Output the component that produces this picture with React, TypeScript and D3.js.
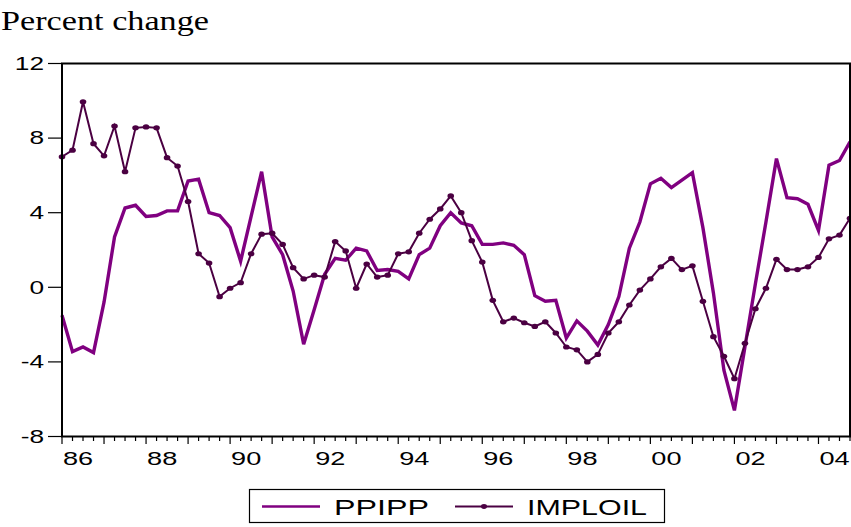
import React from 'react';
import * as d3 from 'd3';

// quarterly series, 1986Q1 .. 2004Q4
const START_YEAR = 1986;

const PPIPP = [
  -1.5, -3.45, -3.2, -3.5, -0.8, 2.7, 4.25, 4.4, 3.8, 3.85, 4.1, 4.1,
  5.7, 5.8, 4.0, 3.85, 3.2, 1.4, 3.8, 6.2, 2.7, 1.75, -0.2, -3.05,
  -1.2, 0.7, 1.55, 1.45, 2.1, 1.95, 0.9, 0.95, 0.85, 0.45, 1.75, 2.1,
  3.3, 4.0, 3.45, 3.3, 2.3, 2.3, 2.38, 2.25, 1.75, -0.45, -0.75, -0.7,
  -2.72, -1.8, -2.35, -3.1, -2.0, -0.5, 2.1, 3.5, 5.55, 5.85, 5.35, 5.75,
  6.15, 3.2, -0.3, -4.45, -6.6, -3.2, 0.2, 3.5, 6.9, 4.8, 4.75, 4.45,
  3.05, 6.55, 6.8, 7.8,
];

const IMPLOIL = [
  7.0, 7.35, 9.95, 7.7, 7.05, 8.65, 6.2, 8.55, 8.6, 8.55, 6.95, 6.5,
  4.6, 1.8, 1.3, -0.5, -0.05, 0.25, 1.8, 2.85, 2.9, 2.3, 1.05, 0.45,
  0.65, 0.55, 2.45, 1.95, -0.05, 1.25, 0.55, 0.65, 1.8, 1.9, 2.9, 3.65,
  4.2, 4.9, 4.0, 2.5, 1.35, -0.7, -1.85, -1.65, -1.9, -2.1, -1.85, -2.45,
  -3.2, -3.35, -4.0, -3.6, -2.45, -1.85, -0.95, -0.15, 0.45, 1.1, 1.55, 0.95,
  1.15, -0.75, -2.65, -3.7, -4.9, -3.0, -1.15, -0.05, 1.5, 0.95, 0.95, 1.1,
  1.6, 2.6, 2.8, 3.7,
];

const Y_TICKS = [12, 8, 4, 0, -4, -8];
const X_LABELS = ['86', '88', '90', '92', '94', '96', '98', '00', '02', '04'];
const LABEL_YEARS = [1986, 1988, 1990, 1992, 1994, 1996, 1998, 2000, 2002, 2004];

const PPIPP_COLOR = '#800080';
const IMPLOIL_COLOR = '#4b0042';
const SANS = 'Arial, "Liberation Sans", sans-serif';

const W = 851;
const H = 527;
const plot = { left: 62, right: 850, top: 63.5, bottom: 436.5 };

// EViews output here is stretched horizontally, so text is widened too
const Stretch: React.FC<{
  x: number; y: number; sx: number; anchor?: string; size: number; children: React.ReactNode;
}> = ({ x, y, sx, anchor = 'start', size, children }) => (
  <text
    transform={`translate(${x},${y}) scale(${sx},1)`}
    textAnchor={anchor}
    fontSize={size}
    fontFamily={SANS}
    fill="#000"
  >
    {children}
  </text>
);

const App = () => {
  const dates = PPIPP.map((_, i) => START_YEAR + i / 4);
  const lastDate = dates[dates.length - 1];

  const x = d3.scaleLinear().domain([START_YEAR, lastDate]).range([plot.left, plot.right]);
  const y = d3.scaleLinear().domain([-8, 12]).range([plot.bottom, plot.top]);

  const line = d3
    .line<number>()
    .x((_, i) => x(dates[i]))
    .y((d) => y(d));

  const quarterTicks = d3.range(0, (lastDate - START_YEAR) * 4 + 1).map((q) => START_YEAR + q / 4);

  return (
    <svg
      width={W}
      height={H}
      style={{ position: 'absolute', left: 0, top: 0, display: 'block', background: '#fff' }}
    >
      <text x={1} y={30} fontSize={28} fontFamily='"Times New Roman", "Liberation Serif", serif' textLength={208} lengthAdjust="spacingAndGlyphs">
        Percent change
      </text>

      {/* y axis ticks and labels */}
      {Y_TICKS.map((t) => (
        <g key={t}>
          <line x1={48} x2={plot.left} y1={y(t)} y2={y(t)} stroke="#000" strokeWidth={1.2} />
          <Stretch x={44} y={y(t) + 6.3} sx={1.5} anchor="end" size={17.5}>
            {t}
          </Stretch>
        </g>
      ))}

      {/* x axis ticks */}
      {quarterTicks.map((d, i) => (
        <line
          key={d}
          x1={x(d)}
          x2={x(d)}
          y1={plot.bottom}
          y2={plot.bottom + (i % 4 === 0 ? 7.5 : 4.5)}
          stroke="#000"
          strokeWidth={1.2}
        />
      ))}
      {X_LABELS.map((lab, i) => (
        <Stretch key={lab} x={x(LABEL_YEARS[i]) + 1} y={464.5} sx={1.55} size={17.5}>
          {lab}
        </Stretch>
      ))}

      {/* series */}
      <path d={line(PPIPP) ?? ''} fill="none" stroke={PPIPP_COLOR} strokeWidth={3.4} strokeLinejoin="miter" />
      <path d={line(IMPLOIL) ?? ''} fill="none" stroke={IMPLOIL_COLOR} strokeWidth={2} />
      {IMPLOIL.map((v, i) => (
        <ellipse key={i} cx={x(dates[i])} cy={y(v)} rx={3.3} ry={2.6} fill={IMPLOIL_COLOR} />
      ))}

      {/* frame */}
      <rect
        x={plot.left}
        y={plot.top}
        width={plot.right - plot.left}
        height={plot.bottom - plot.top}
        fill="none"
        stroke="#000"
        strokeWidth={2}
      />

      {/* legend */}
      <rect x={249.5} y={489.5} width={415} height={33} fill="#fff" stroke="#000" strokeWidth={1.2} />
      <line x1={262} x2={320} y1={506.5} y2={506.5} stroke={PPIPP_COLOR} strokeWidth={2.5} />
      <text x={334} y={515} fontSize={22} fontFamily={SANS} textLength={95} lengthAdjust="spacingAndGlyphs">
        {'PPIPP'}
      </text>
      <line x1={455} x2={513} y1={506.5} y2={506.5} stroke={IMPLOIL_COLOR} strokeWidth={2} />
      <ellipse cx={484} cy={506.5} rx={3} ry={2.4} fill={IMPLOIL_COLOR} />
      <text x={527} y={515} fontSize={22} fontFamily={SANS} textLength={120} lengthAdjust="spacingAndGlyphs">
        {'IMPLOIL'}
      </text>
    </svg>
  );
};

export default App;
